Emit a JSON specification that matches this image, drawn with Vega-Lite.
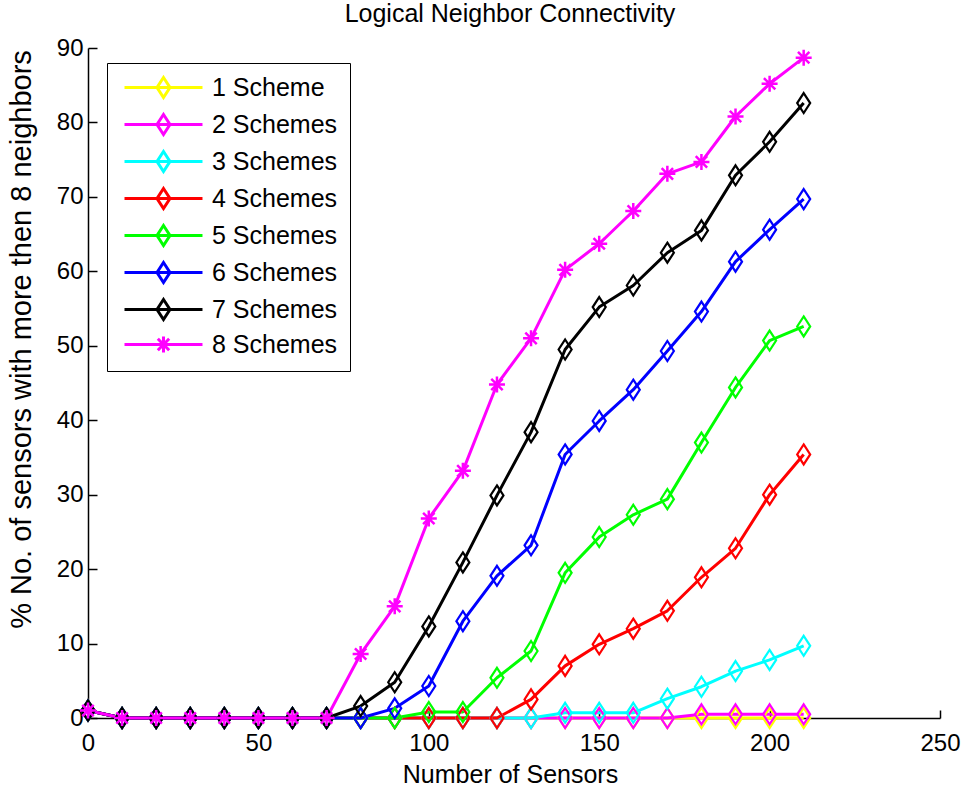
{
  "$schema": "https://vega.github.io/schema/vega-lite/v6.json",
  "autosize": {"type": "none"},
  "padding": {"left": 88, "top": 48, "right": 25, "bottom": 74},
  "width": 852,
  "height": 670,
  "background": "white",
  "config": {
    "view": {"stroke": null},
    "font": "Liberation Sans",
    "axis": {"grid": false, "domainColor": "black", "domainWidth": 1.5, "tickColor": "black", "tickWidth": 1.5, "labelColor": "black", "titleColor": "black", "labelFont": "Liberation Sans", "titleFont": "Liberation Sans", "titleFontWeight": "normal", "labelFlush": false, "labelOverlap": false}
  },
  "title": {"text": "Logical Neighbor Connectivity", "font": "Liberation Sans", "fontSize": 25, "fontWeight": "normal", "color": "black", "anchor": "middle", "frame": "group", "baseline": "alphabetic", "offset": 12, "dx": -4, "dy": 23},
  "data": {"values": [
    {"series": "1 Scheme", "x": 0, "y": 1}, {"series": "1 Scheme", "x": 10, "y": 0}, {"series": "1 Scheme", "x": 20, "y": 0}, {"series": "1 Scheme", "x": 30, "y": 0}, {"series": "1 Scheme", "x": 40, "y": 0}, {"series": "1 Scheme", "x": 50, "y": 0}, {"series": "1 Scheme", "x": 60, "y": 0}, {"series": "1 Scheme", "x": 70, "y": 0}, {"series": "1 Scheme", "x": 80, "y": 0}, {"series": "1 Scheme", "x": 90, "y": 0}, {"series": "1 Scheme", "x": 100, "y": 0}, {"series": "1 Scheme", "x": 110, "y": 0}, {"series": "1 Scheme", "x": 120, "y": 0}, {"series": "1 Scheme", "x": 130, "y": 0}, {"series": "1 Scheme", "x": 140, "y": 0}, {"series": "1 Scheme", "x": 150, "y": 0}, {"series": "1 Scheme", "x": 160, "y": 0}, {"series": "1 Scheme", "x": 170, "y": 0}, {"series": "1 Scheme", "x": 180, "y": 0}, {"series": "1 Scheme", "x": 190, "y": 0}, {"series": "1 Scheme", "x": 200, "y": 0}, {"series": "1 Scheme", "x": 210, "y": 0},
    {"series": "2 Schemes", "x": 0, "y": 1}, {"series": "2 Schemes", "x": 10, "y": 0}, {"series": "2 Schemes", "x": 20, "y": 0}, {"series": "2 Schemes", "x": 30, "y": 0}, {"series": "2 Schemes", "x": 40, "y": 0}, {"series": "2 Schemes", "x": 50, "y": 0}, {"series": "2 Schemes", "x": 60, "y": 0}, {"series": "2 Schemes", "x": 70, "y": 0}, {"series": "2 Schemes", "x": 80, "y": 0}, {"series": "2 Schemes", "x": 90, "y": 0}, {"series": "2 Schemes", "x": 100, "y": 0}, {"series": "2 Schemes", "x": 110, "y": 0}, {"series": "2 Schemes", "x": 120, "y": 0}, {"series": "2 Schemes", "x": 130, "y": 0}, {"series": "2 Schemes", "x": 140, "y": 0}, {"series": "2 Schemes", "x": 150, "y": 0}, {"series": "2 Schemes", "x": 160, "y": 0}, {"series": "2 Schemes", "x": 170, "y": 0}, {"series": "2 Schemes", "x": 180, "y": 0.5}, {"series": "2 Schemes", "x": 190, "y": 0.5}, {"series": "2 Schemes", "x": 200, "y": 0.5}, {"series": "2 Schemes", "x": 210, "y": 0.5},
    {"series": "3 Schemes", "x": 0, "y": 1}, {"series": "3 Schemes", "x": 10, "y": 0}, {"series": "3 Schemes", "x": 20, "y": 0}, {"series": "3 Schemes", "x": 30, "y": 0}, {"series": "3 Schemes", "x": 40, "y": 0}, {"series": "3 Schemes", "x": 50, "y": 0}, {"series": "3 Schemes", "x": 60, "y": 0}, {"series": "3 Schemes", "x": 70, "y": 0}, {"series": "3 Schemes", "x": 80, "y": 0}, {"series": "3 Schemes", "x": 90, "y": 0}, {"series": "3 Schemes", "x": 100, "y": 0}, {"series": "3 Schemes", "x": 110, "y": 0}, {"series": "3 Schemes", "x": 120, "y": 0}, {"series": "3 Schemes", "x": 130, "y": 0}, {"series": "3 Schemes", "x": 140, "y": 0.7}, {"series": "3 Schemes", "x": 150, "y": 0.7}, {"series": "3 Schemes", "x": 160, "y": 0.7}, {"series": "3 Schemes", "x": 170, "y": 2.6}, {"series": "3 Schemes", "x": 180, "y": 4.2}, {"series": "3 Schemes", "x": 190, "y": 6.3}, {"series": "3 Schemes", "x": 200, "y": 7.8}, {"series": "3 Schemes", "x": 210, "y": 9.7},
    {"series": "4 Schemes", "x": 0, "y": 1}, {"series": "4 Schemes", "x": 10, "y": 0}, {"series": "4 Schemes", "x": 20, "y": 0}, {"series": "4 Schemes", "x": 30, "y": 0}, {"series": "4 Schemes", "x": 40, "y": 0}, {"series": "4 Schemes", "x": 50, "y": 0}, {"series": "4 Schemes", "x": 60, "y": 0}, {"series": "4 Schemes", "x": 70, "y": 0}, {"series": "4 Schemes", "x": 80, "y": 0}, {"series": "4 Schemes", "x": 90, "y": 0}, {"series": "4 Schemes", "x": 100, "y": 0}, {"series": "4 Schemes", "x": 110, "y": 0}, {"series": "4 Schemes", "x": 120, "y": 0}, {"series": "4 Schemes", "x": 130, "y": 2.5}, {"series": "4 Schemes", "x": 140, "y": 7}, {"series": "4 Schemes", "x": 150, "y": 9.9}, {"series": "4 Schemes", "x": 160, "y": 12}, {"series": "4 Schemes", "x": 170, "y": 14.4}, {"series": "4 Schemes", "x": 180, "y": 18.9}, {"series": "4 Schemes", "x": 190, "y": 22.8}, {"series": "4 Schemes", "x": 200, "y": 30}, {"series": "4 Schemes", "x": 210, "y": 35.4},
    {"series": "5 Schemes", "x": 0, "y": 1}, {"series": "5 Schemes", "x": 10, "y": 0}, {"series": "5 Schemes", "x": 20, "y": 0}, {"series": "5 Schemes", "x": 30, "y": 0}, {"series": "5 Schemes", "x": 40, "y": 0}, {"series": "5 Schemes", "x": 50, "y": 0}, {"series": "5 Schemes", "x": 60, "y": 0}, {"series": "5 Schemes", "x": 70, "y": 0}, {"series": "5 Schemes", "x": 80, "y": 0}, {"series": "5 Schemes", "x": 90, "y": 0}, {"series": "5 Schemes", "x": 100, "y": 0.8}, {"series": "5 Schemes", "x": 110, "y": 0.8}, {"series": "5 Schemes", "x": 120, "y": 5.4}, {"series": "5 Schemes", "x": 130, "y": 9}, {"series": "5 Schemes", "x": 140, "y": 19.5}, {"series": "5 Schemes", "x": 150, "y": 24.3}, {"series": "5 Schemes", "x": 160, "y": 27.3}, {"series": "5 Schemes", "x": 170, "y": 29.4}, {"series": "5 Schemes", "x": 180, "y": 37}, {"series": "5 Schemes", "x": 190, "y": 44.4}, {"series": "5 Schemes", "x": 200, "y": 50.7}, {"series": "5 Schemes", "x": 210, "y": 52.6},
    {"series": "6 Schemes", "x": 0, "y": 1}, {"series": "6 Schemes", "x": 10, "y": 0}, {"series": "6 Schemes", "x": 20, "y": 0}, {"series": "6 Schemes", "x": 30, "y": 0}, {"series": "6 Schemes", "x": 40, "y": 0}, {"series": "6 Schemes", "x": 50, "y": 0}, {"series": "6 Schemes", "x": 60, "y": 0}, {"series": "6 Schemes", "x": 70, "y": 0}, {"series": "6 Schemes", "x": 80, "y": 0}, {"series": "6 Schemes", "x": 90, "y": 1.3}, {"series": "6 Schemes", "x": 100, "y": 4.3}, {"series": "6 Schemes", "x": 110, "y": 13}, {"series": "6 Schemes", "x": 120, "y": 19.1}, {"series": "6 Schemes", "x": 130, "y": 23.2}, {"series": "6 Schemes", "x": 140, "y": 35.4}, {"series": "6 Schemes", "x": 150, "y": 39.9}, {"series": "6 Schemes", "x": 160, "y": 44.1}, {"series": "6 Schemes", "x": 170, "y": 49.3}, {"series": "6 Schemes", "x": 180, "y": 54.6}, {"series": "6 Schemes", "x": 190, "y": 61.3}, {"series": "6 Schemes", "x": 200, "y": 65.6}, {"series": "6 Schemes", "x": 210, "y": 69.7},
    {"series": "7 Schemes", "x": 0, "y": 1}, {"series": "7 Schemes", "x": 10, "y": 0}, {"series": "7 Schemes", "x": 20, "y": 0}, {"series": "7 Schemes", "x": 30, "y": 0}, {"series": "7 Schemes", "x": 40, "y": 0}, {"series": "7 Schemes", "x": 50, "y": 0}, {"series": "7 Schemes", "x": 60, "y": 0}, {"series": "7 Schemes", "x": 70, "y": 0}, {"series": "7 Schemes", "x": 80, "y": 1.6}, {"series": "7 Schemes", "x": 90, "y": 4.8}, {"series": "7 Schemes", "x": 100, "y": 12.3}, {"series": "7 Schemes", "x": 110, "y": 20.9}, {"series": "7 Schemes", "x": 120, "y": 29.9}, {"series": "7 Schemes", "x": 130, "y": 38.4}, {"series": "7 Schemes", "x": 140, "y": 49.5}, {"series": "7 Schemes", "x": 150, "y": 55.2}, {"series": "7 Schemes", "x": 160, "y": 58.1}, {"series": "7 Schemes", "x": 170, "y": 62.5}, {"series": "7 Schemes", "x": 180, "y": 65.5}, {"series": "7 Schemes", "x": 190, "y": 72.9}, {"series": "7 Schemes", "x": 200, "y": 77.4}, {"series": "7 Schemes", "x": 210, "y": 82.6},
    {"series": "8 Schemes", "x": 0, "y": 1}, {"series": "8 Schemes", "x": 10, "y": 0}, {"series": "8 Schemes", "x": 20, "y": 0}, {"series": "8 Schemes", "x": 30, "y": 0}, {"series": "8 Schemes", "x": 40, "y": 0}, {"series": "8 Schemes", "x": 50, "y": 0}, {"series": "8 Schemes", "x": 60, "y": 0}, {"series": "8 Schemes", "x": 70, "y": 0}, {"series": "8 Schemes", "x": 80, "y": 8.6}, {"series": "8 Schemes", "x": 90, "y": 15}, {"series": "8 Schemes", "x": 100, "y": 26.8}, {"series": "8 Schemes", "x": 110, "y": 33.2}, {"series": "8 Schemes", "x": 120, "y": 44.8}, {"series": "8 Schemes", "x": 130, "y": 51}, {"series": "8 Schemes", "x": 140, "y": 60.2}, {"series": "8 Schemes", "x": 150, "y": 63.7}, {"series": "8 Schemes", "x": 160, "y": 68.1}, {"series": "8 Schemes", "x": 170, "y": 73.1}, {"series": "8 Schemes", "x": 180, "y": 74.7}, {"series": "8 Schemes", "x": 190, "y": 80.8}, {"series": "8 Schemes", "x": 200, "y": 85.2}, {"series": "8 Schemes", "x": 210, "y": 88.7}
  ]},
  "encoding": {
    "x": {"field": "x", "type": "quantitative", "scale": {"domain": [0, 250], "nice": false, "zero": false},
      "axis": {"values": [0, 50, 100, 150, 200, 250], "format": "d", "title": "Number of Sensors", "tickSize": -8, "labelPadding": 21, "labelFontSize": 24, "titleFontSize": 25, "titleX": 422, "titleY": 64, "titleBaseline": "alphabetic", "titleAnchor": null}},
    "y": {"field": "y", "type": "quantitative", "scale": {"domain": [0, 90], "nice": false},
      "axis": {"values": [0, 10, 20, 30, 40, 50, 60, 70, 80, 90], "format": "d", "title": "% No. of sensors with more then 8 neighbors", "tickSize": -9, "labelPadding": 14, "labelFontSize": 24, "titleFontSize": 29, "titleX": -67, "titleY": 291, "titleAngle": -90, "titleAlign": "center", "titleBaseline": "middle", "titleAnchor": null}},
    "stroke": {"field": "series", "type": "nominal",
      "scale": {"domain": ["1 Scheme", "2 Schemes", "3 Schemes", "4 Schemes", "5 Schemes", "6 Schemes", "7 Schemes", "8 Schemes"], "range": ["#ffff00", "#ff00ff", "#00ffff", "#ff0000", "#00ff00", "#0000ff", "#000000", "#ff00ff"]},
      "legend": {"title": null, "orient": "none", "legendX": 19, "legendY": 15, "padding": 12, "symbolOffset": 4, "strokeColor": "black", "fillColor": "white", "cornerRadius": 0,
        "symbolType": "M-1,0L6.09,0M2.545,-0.91L3.135,0L2.545,0.91L1.955,0Z", "symbolSize": 484, "symbolStrokeWidth": 3, "symbolFillColor": "transparent",
        "labelFont": "Liberation Sans", "labelFontSize": 25, "labelColor": "black", "labelOffset": 64, "rowPadding": 4, "labelLimit": 300,
        "encode": {"symbols": {"update": {"shape": {"signal": "datum.value === '8 Schemes' ? 'M-1,0L6.09,0M2.545,-0.73L2.545,0.73M1.815,0L3.275,0M2.03,-0.52L3.06,0.52M2.03,0.52L3.06,-0.52' : 'M-1,0L6.09,0M2.545,-0.91L3.135,0L2.545,0.91L1.955,0Z'"}, "strokeWidth": {"value": 3}, "fill": {"value": "transparent"}}}}}}
  },
  "layer": [
    {"mark": {"type": "line", "strokeJoin": "round"},
     "encoding": {"strokeWidth": {"field": "series", "type": "ordinal", "legend": null,
       "scale": {"domain": ["1 Scheme", "2 Schemes", "3 Schemes", "4 Schemes", "5 Schemes", "6 Schemes", "7 Schemes", "8 Schemes"], "range": [3, 3, 3, 2.5, 2, 3, 2, 2]}}}},
    {"transform": [{"filter": "datum.series !== '8 Schemes'"}],
     "mark": {"type": "point", "filled": false, "strokeWidth": 2.2, "size": 400, "opacity": 1, "shape": "M0,-1L0.65,0L0,1L-0.65,0Z"}},
    {"transform": [{"filter": "datum.series === '8 Schemes'"}],
     "mark": {"type": "point", "filled": false, "strokeWidth": 2.5, "size": 400, "opacity": 1, "shape": "M0,-0.8L0,0.8M-0.8,0L0.8,0M-0.57,-0.57L0.57,0.57M-0.57,0.57L0.57,-0.57"}}
  ]
}
